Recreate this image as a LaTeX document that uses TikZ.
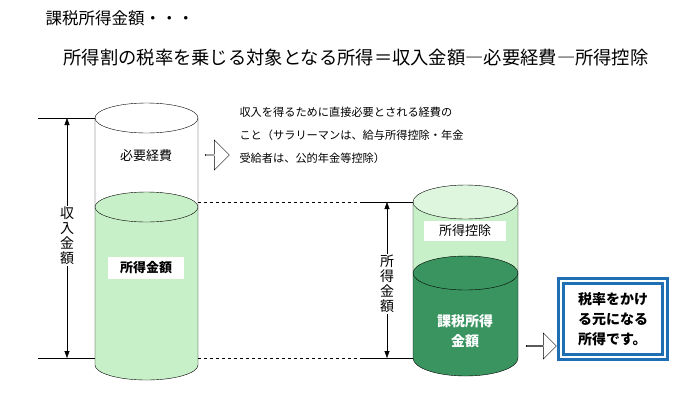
\documentclass[tikz,border=0pt]{standalone}
\usepackage{fontspec}
\setmainfont{Noto Sans CJK JP}
\usetikzlibrary{shapes.arrows,arrows.meta}
\definecolor{lgreen}{HTML}{C8F0C8}
\definecolor{dgreen}{HTML}{3A9460}
\definecolor{boxblue}{HTML}{1F6FB5}
\begin{document}
\begin{tikzpicture}[x=1pt,y=-1pt,
  bigarrow/.style={draw,fill=white,single arrow,minimum width=30pt,minimum height=24pt,single arrow head extend=4pt,inner sep=0pt},
  dim/.style={{Triangle[width=5pt,length=7pt]}-{Triangle[width=5pt,length=7pt]}},
  lbl/.style={fill=white,font=\fontsize{13}{14}\selectfont,inner sep=2pt}]
\useasboundingbox[fill=white] (0,0) rectangle (700,402);
% title
\node[anchor=west,font=\fontsize{16.5}{17}\selectfont] (title) at (42,18) {課税所得金額・・・};
\node[anchor=west,font=\fontsize{18.3}{19}\selectfont] (formula) at (60,58) {所得割の税率を乗じる対象となる所得＝収入金額―必要経費―所得控除};
% left cylinder
\fill[lgreen] (95,207) -- (95,365) arc[start angle=180,end angle=0,x radius=51.5,y radius=15] -- (198,207) -- cycle;
\draw (95,118) -- (95,365) arc[start angle=180,end angle=0,x radius=51.5,y radius=15] -- (198,118);
\draw (146.5,118) ellipse[x radius=51.5,y radius=15];
\draw[fill=lgreen] (146.5,207) ellipse[x radius=51.5,y radius=15];
\node[font=\fontsize{13}{14}\selectfont] (expense) at (146,156) {必要経費};
\node[lbl,font=\bfseries\fontsize{13}{14}\selectfont,minimum width=76pt,minimum height=22pt] (income) at (146,268) {所得金額};
% right cylinder
\fill[lgreen] (413,202) rectangle (518,273);
\fill[dgreen] (413,273) -- (413,358) arc[start angle=180,end angle=0,x radius=52.5,y radius=18] -- (518,273) -- cycle;
\draw (413,202) -- (413,358) arc[start angle=180,end angle=0,x radius=52.5,y radius=18] -- (518,202);
\draw[fill=lgreen!60] (465.5,202) ellipse[x radius=52.5,y radius=17];
\draw[fill=dgreen] (465.5,273) ellipse[x radius=52.5,y radius=17];
\node[lbl,minimum width=82pt,minimum height=20pt] (deduct) at (465,231) {所得控除};
\node[text=white,align=center,font=\bfseries\fontsize{14}{20}\selectfont] (taxable) at (465,331) {課税所得\\金額};
% dimension lines
\coordinate (la) at (38,118); \coordinate (lb) at (95,118);
\coordinate (lc) at (38,358); \coordinate (ld) at (95,358);
\draw (la) -- (lb); \draw (lc) -- (ld);
\draw[dim] (67,118) -- (67,358);
\node[fill=white,align=center,inner sep=1pt,font=\fontsize{14}{15}\selectfont] (rev) at (67,236) {収\\入\\金\\額};
\coordinate (ra) at (362,202); \coordinate (rb) at (413,202);
\coordinate (rc) at (362,358); \coordinate (rd) at (413,358);
\draw (ra) -- (rb); \draw (rc) -- (rd);
\draw[dim] (387,202) -- (387,358);
\node[fill=white,align=center,inner sep=1pt,font=\fontsize{14}{15}\selectfont] (inc2) at (387,284) {所\\得\\金\\額};
\draw[dashed] (198,202) -- (ra);
\draw[dashed] (198,358) -- (rc);
% notes
\node[bigarrow] (arr1) at (217,155) {};
\node[anchor=north west,align=left,font=\fontsize{11.2}{23}\selectfont] (note) at (236,104) {収入を得るために直接必要とされる経費の\\こと（サラリーマンは、給与所得控除・年金\\受給者は、公的年金等控除）};
\node[bigarrow,minimum width=26pt,minimum height=30pt] (arr2) at (541,346) {};
\node[draw=boxblue,line width=3pt,fill=white,minimum width=104pt,minimum height=76pt,
  double=white,double distance=1.5pt,align=left,font=\bfseries\fontsize{14}{20}\selectfont] (result) at (613,319) {税率をかけ\\る元になる\\所得です。};
\end{tikzpicture}
\end{document}
